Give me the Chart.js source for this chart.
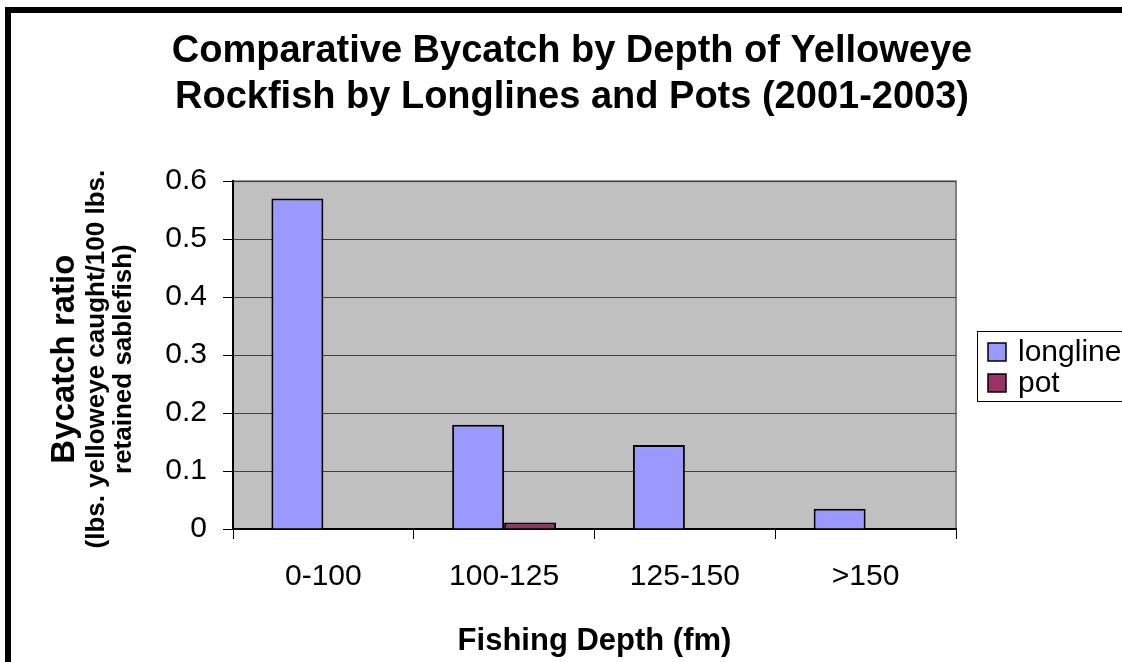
<!DOCTYPE html>
<html>
<head>
<meta charset="utf-8">
<script src="https://cdn.jsdelivr.net/npm/chart.js@4"></script>
<style>
html, body { margin: 0; padding: 0; background: #fff; overflow: hidden; }
#wrap { position: relative; width: 1122px; height: 662px; }
#frame { position: absolute; left: 5px; top: 7px; width: 1200px; height: 720px; border: 6px solid #000; box-sizing: border-box; pointer-events: none; }
</style>
</head>
<body>
<div id="wrap">
  <canvas id="myChart" width="1122" height="662"></canvas>
  <div id="frame"></div>
</div>
<script>
const depths = ['0-100', '100-125', '125-150', '>150']
const longline = [0.57, 0.18, 0.145, 0.035]
const pot = [0, 0.011, 0, 0]
const yTicks = [0, 0.1, 0.2, 0.3, 0.4, 0.5, 0.6]

const chartTitle = ['Comparative Bycatch by Depth of Yelloweye', 'Rockfish by Longlines and Pots (2001-2003)']
const xTitle = 'Fishing Depth (fm)'
const yTitle = ['Bycatch ratio', '(lbs. yelloweye caught/100 lbs.', 'retained sablefish)']

const FONT = '"Liberation Sans", Arial, sans-serif'

// grey plot area with its thin frame
const plotBg = {
    id: 'plotBg',
    beforeDraw(chart) {
        const { ctx, chartArea: a } = chart
        ctx.save()
        ctx.fillStyle = '#c0c0c0'
        ctx.fillRect(a.left, a.top, a.right - a.left, a.bottom - a.top)
        ctx.strokeStyle = '#808080'
        ctx.lineWidth = 2
        ctx.strokeRect(a.left, a.top, a.right - a.left, a.bottom - a.top)
        ctx.restore()
    }
}

// three line y title, first line larger
const yTitlePlugin = {
    id: 'yTitlePlugin',
    afterDraw(chart) {
        const { ctx, chartArea: a } = chart
        const cy = (a.top + a.bottom) / 2 + 4
        const xs = [65, 97, 124]
        const sizes = [33, 26, 26]
        ctx.save()
        ctx.fillStyle = '#000'
        ctx.textAlign = 'center'
        ctx.textBaseline = 'middle'
        yTitle.forEach((t, i) => {
            ctx.save()
            ctx.translate(xs[i], cy)
            ctx.rotate(-Math.PI / 2)
            ctx.font = 'bold ' + sizes[i] + 'px ' + FONT
            ctx.fillText(t, 0, 0)
            ctx.restore()
        })
        ctx.restore()
    }
}

// legend box on the right, runs off the edge like the original
const legendBox = {
    id: 'legendBox',
    afterDraw(chart) {
        const { ctx } = chart
        const left = 977, top = 331, bottom = 401
        ctx.save()
        ctx.fillStyle = '#fff'
        ctx.fillRect(left, top, 200, bottom - top)
        ctx.strokeStyle = '#000'
        ctx.lineWidth = 1
        ctx.strokeRect(left + 0.5, top + 0.5, 200, bottom - top)
        ctx.font = '30px ' + FONT
        ctx.textBaseline = 'middle'
        chart.data.datasets.forEach((ds, i) => {
            const cy = 352 + i * 31
            ctx.fillStyle = ds.backgroundColor
            ctx.fillRect(988, cy - 9, 18, 18)
            ctx.strokeStyle = '#000'
            ctx.lineWidth = 1.5
            ctx.strokeRect(988, cy - 9, 18, 18)
            ctx.fillStyle = '#000'
            ctx.fillText(ds.label, 1018, cy + 1)
        })
        ctx.restore()
    }
}

new Chart(document.getElementById('myChart'), {
    type: 'bar',
    data: {
        labels: depths,
        datasets: [{
            label: 'longline',
            data: longline,
            backgroundColor: '#9999ff',
            borderColor: '#000',
            borderWidth: 2
        }, {
            label: 'pot',
            data: pot,
            backgroundColor: '#993366',
            borderColor: '#000',
            borderWidth: 2
        }]
    },
    options: {
        responsive: false,
        animation: false,
        devicePixelRatio: 1,
        layout: { padding: { left: 22, right: 0, top: 0, bottom: 0 } },
        datasets: { bar: { categoryPercentage: 0.575, barPercentage: 1 } },
        plugins: {
            legend: { display: false },
            tooltip: { enabled: false },
            title: {
                display: true,
                text: chartTitle,
                color: '#000',
                font: { family: FONT, size: 38, weight: 'bold', lineHeight: 1.2 },
                padding: { top: 29, bottom: 61 }
            }
        },
        scales: {
            x: {
                afterFit: s => { s.height = 133 },
                grid: { offset: true, drawOnChartArea: false, tickLength: 10, color: '#000', lineWidth: 1 },
                border: { color: '#000', width: 2 },
                ticks: { color: '#000', padding: 20, font: { family: FONT, size: 30 } },
                title: {
                    display: true,
                    text: xTitle,
                    color: '#000',
                    font: { family: FONT, size: 31, weight: 'bold' },
                    padding: { top: 0, bottom: 2 }
                }
            },
            y: {
                min: 0,
                max: 0.6,
                afterFit: s => { s.width = 211 },
                afterBuildTicks: s => { s.ticks = yTicks.map(v => ({ value: v })) },
                grid: { color: '#404040', tickColor: '#000', tickLength: 10, lineWidth: 1 },
                border: { color: '#000', width: 2 },
                ticks: {
                    color: '#000',
                    padding: 16,
                    font: { family: FONT, size: 30 },
                    callback: v => String(v)
                }
            },
            // empty right axis only to keep room for the legend
            side: {
                position: 'right',
                min: 0,
                max: 1,
                afterFit: s => { s.width = 166 },
                grid: { display: false },
                border: { display: false },
                ticks: { display: false }
            }
        }
    },
    plugins: [plotBg, yTitlePlugin, legendBox]
})
</script>
</body>
</html>
